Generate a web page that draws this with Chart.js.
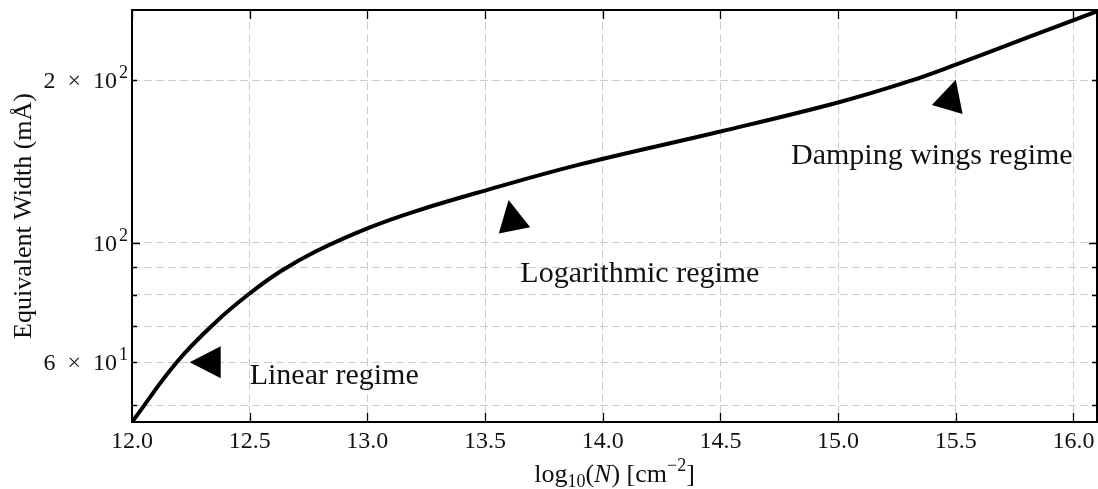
<!DOCTYPE html>
<html>
<head>
<meta charset="utf-8">
<title>Curve of growth</title>
<script src="https://cdn.jsdelivr.net/npm/chart.js@4.4.1/dist/chart.umd.min.js"></script>
<style>
  html, body { margin: 0; padding: 0; background: #fff; }
</style>
</head>
<body>
<canvas id="cog" width="1098" height="489"></canvas>
<script>
// column density (log10 N in cm^-2) and equivalent width (mÅ) along the curve of growth
const logN = [12.0, 12.19, 12.36, 12.5, 12.63, 12.78, 13.0, 13.2, 13.5, 13.9, 14.5, 15.0, 15.3, 15.5, 15.8, 16.1];
const eqWidth = [46.5, 60.0, 71.5, 80.5, 88.4, 96.3, 106.3, 114.2, 124.9, 139.5, 160.7, 181.9, 199.0, 213.8, 239.6, 268.5];

// tick positions, and the few y ticks that carry a label (mantissa part, exponent)
const xTicks = [12.0, 12.5, 13.0, 13.5, 14.0, 14.5, 15.0, 15.5, 16.0];
const yTicks = [50, 60, 70, 80, 90, 100, 200];
const yTickLabels = { 60: ['6\u2002×\u200210', '1'], 100: ['10', '2'], 200: ['2\u2002×\u200210', '2'] };

// regime notes: arrow tip (data), text baseline start (data), arrow heading in degrees
const regimeNames = ['Linear regime', 'Logarithmic regime', 'Damping wings regime'];
const regimeTips = [[12.245, 60], [13.6, 120], [15.5, 200.5]];
const regimeText = [[12.5, 54.8], [13.65, 84.5], [14.8, 139.7]];
const regimeArrowDeg = [180, 259, 286];

const serif = '"Liberation Serif", "DejaVu Serif", serif';

// x axis title pieces: text and style (n = roman, i = italic, sub / sup)
const xTitleRuns = [['log', 'n'], ['10', 'sub'], ['(', 'n'], ['N', 'i'], [') [cm', 'n'], ['\u22122', 'sup'], [']', 'n']];

function runFont(kind) {
  if (kind === 'i') return 'italic 26px ' + serif;
  if (kind === 'sub' || kind === 'sup') return '18px ' + serif;
  return '26px ' + serif;
}

// frame, inward ticks, y labels with exponents, regime arrows and the x title
const framePlugin = {
  id: 'framePlugin',
  afterDatasetsDraw(chart) {
    const { ctx, chartArea: a, scales: { x, y } } = chart;
    ctx.save();

    ctx.strokeStyle = '#000';
    ctx.lineWidth = 1.3;
    ctx.beginPath();
    xTicks.forEach(v => {
      const px = Math.round(x.getPixelForValue(v)) + 0.5;
      ctx.moveTo(px, a.bottom); ctx.lineTo(px, a.bottom - 9);
      ctx.moveTo(px, a.top); ctx.lineTo(px, a.top + 9);
    });
    yTicks.forEach(v => {
      const py = Math.round(y.getPixelForValue(v)) + 0.5;
      const len = v === 100 ? 8 : 5;
      ctx.moveTo(a.left, py); ctx.lineTo(a.left + len, py);
      ctx.moveTo(a.right, py); ctx.lineTo(a.right - len, py);
    });
    ctx.stroke();

    ctx.lineWidth = 2;
    ctx.strokeRect(a.left, a.top, a.width, a.height);

    // y tick labels, mantissa with a raised exponent
    ctx.fillStyle = '#111';
    ctx.textBaseline = 'alphabetic';
    ctx.textAlign = 'left';
    Object.keys(yTickLabels).forEach(k => {
      const [body, exp] = yTickLabels[k];
      const py = y.getPixelForValue(Number(k));
      ctx.font = '18px ' + serif;
      const ew = ctx.measureText(exp).width;
      ctx.font = '24px ' + serif;
      const bw = ctx.measureText(body).width;
      const right = a.left - 4;
      const base = py + 8;
      ctx.fillText(body, right - ew - 2 - bw, base);
      ctx.font = '18px ' + serif;
      ctx.fillText(exp, right - ew, base - 10);
    });

    // arrow heads pointing at each regime, with its name
    regimeNames.forEach((name, i) => {
      const tx = x.getPixelForValue(regimeTips[i][0]);
      const ty = y.getPixelForValue(regimeTips[i][1]);
      const ang = regimeArrowDeg[i] * Math.PI / 180;
      const dx = Math.cos(ang), dy = Math.sin(ang);
      const bx = tx - dx * 31, by = ty - dy * 31;
      ctx.fillStyle = '#000';
      ctx.beginPath();
      ctx.moveTo(tx, ty);
      ctx.lineTo(bx - dy * 16, by + dx * 16);
      ctx.lineTo(bx + dy * 16, by - dx * 16);
      ctx.closePath();
      ctx.fill();

      ctx.fillStyle = '#111';
      ctx.font = '30px ' + serif;
      ctx.fillText(name, x.getPixelForValue(regimeText[i][0]), y.getPixelForValue(regimeText[i][1]));
    });

    // x title: log10(N) [cm^-2]
    let total = 0;
    xTitleRuns.forEach(([t, k]) => { ctx.font = runFont(k); total += ctx.measureText(t).width; });
    let cx = (a.left + a.right) / 2 - total / 2;
    const base = 482;
    ctx.fillStyle = '#111';
    xTitleRuns.forEach(([t, k]) => {
      ctx.font = runFont(k);
      const off = k === 'sub' ? 5 : (k === 'sup' ? -11 : 0);
      ctx.fillText(t, cx, base + off);
      cx += ctx.measureText(t).width;
    });

    ctx.restore();
  }
};

const ctx = document.getElementById('cog').getContext('2d');
const cogChart = new Chart(ctx, {
  type: 'line',
  data: {
    datasets: [{
      data: logN.map((v, i) => ({ x: v, y: eqWidth[i] })),
      borderColor: '#000',
      borderWidth: 4,
      pointRadius: 0,
      fill: false,
      tension: 0.4
    }]
  },
  options: {
    responsive: false,
    animation: false,
    layout: { padding: { top: 10, right: 1, left: 0, bottom: 0 } },
    plugins: {
      legend: { display: false },
      tooltip: { enabled: false }
    },
    scales: {
      x: {
        type: 'linear',
        min: 12.0,
        max: 16.1,
        afterBuildTicks: scale => { scale.ticks = xTicks.map(v => ({ value: v })); },
        afterFit: scale => { scale.height = 67; scale.paddingLeft = 0; scale.paddingRight = 0; },
        grid: { color: '#cccccc', lineWidth: 1, drawTicks: false },
        border: { display: false, dash: [8, 4] },
        ticks: {
          autoSkip: false,
          maxRotation: 0,
          padding: 5,
          color: '#111',
          font: { family: serif, size: 24 },
          callback: v => v.toFixed(1)
        }
      },
      y: {
        type: 'logarithmic',
        min: 46.5,
        max: 270,
        afterBuildTicks: scale => { scale.ticks = yTicks.map(v => ({ value: v })); },
        afterFit: scale => { scale.width = 132; scale.paddingTop = 0; scale.paddingBottom = 0; },
        grid: { color: '#cccccc', lineWidth: 1, drawTicks: false },
        border: { display: false, dash: [8, 4] },
        ticks: { display: false },
        title: {
          display: true,
          text: 'Equivalent Width (mÅ)',
          color: '#111',
          font: { family: serif, size: 26 },
          padding: { top: 9, bottom: 0 }
        }
      }
    }
  },
  plugins: [framePlugin]
});
</script>
</body>
</html>
